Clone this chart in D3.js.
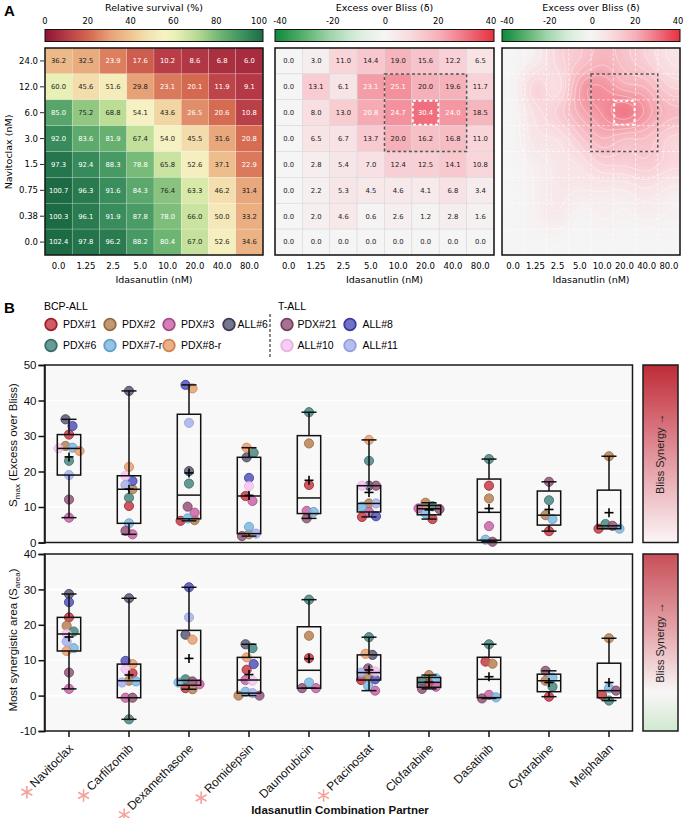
<!DOCTYPE html>
<html><head><meta charset="utf-8">
<script src="https://cdn.jsdelivr.net/npm/d3@7"></script>
<style>body{margin:0;background:#fff} svg{display:block}</style>
</head><body><svg id="c" width="685" height="818"></svg>
<script>
// ---------------- DATA ----------------
const navitoclaxDoses = ["24.0","12.0","6.0","3.0","1.5","0.75","0.38","0.0"];
const idasanutlinDoses = ["0.0","1.25","2.5","5.0","10.0","20.0","40.0","80.0"];
const survival = [
  [36.2,32.5,23.9,17.6,10.2,8.6,6.8,6.0],
  [60.0,45.6,51.6,29.8,23.1,20.1,11.9,9.1],
  [85.0,75.2,68.8,54.1,43.6,26.5,20.6,10.8],
  [92.0,83.6,81.9,67.4,54.0,45.5,31.6,20.8],
  [97.3,92.4,88.3,78.8,65.8,52.6,37.1,22.9],
  [100.7,96.3,91.6,84.3,76.4,63.3,46.2,31.4],
  [100.3,96.1,91.9,87.8,78.0,66.0,50.0,33.2],
  [102.4,97.8,96.2,88.2,80.4,67.0,52.6,34.6]
];
const bliss = [
  [0.0,3.0,11.0,14.4,19.0,15.6,12.2,6.5],
  [0.0,13.1,6.1,23.1,25.1,20.0,19.6,11.7],
  [0.0,8.0,13.0,20.8,24.7,30.4,24.0,18.5],
  [0.0,6.5,6.7,13.7,20.0,16.2,16.8,11.0],
  [0.0,2.8,5.4,7.0,12.4,12.5,14.1,10.8],
  [0.0,2.2,5.3,4.5,4.6,4.1,6.8,3.4],
  [0.0,2.0,4.6,0.6,2.6,1.2,2.8,1.6],
  [0.0,0.0,0.0,0.0,0.0,0.0,0.0,0.0]
];
const survivalTicks = [0,20,40,60,80,100];
const blissTicks = [-40,-20,0,20,40];

const samples = ["PDX#1","PDX#2","PDX#3","ALL#6","PDX#6","PDX#7-r","PDX#8-r","PDX#21","ALL#8","ALL#10","ALL#11"];
const sampleType = ["BCP-ALL","BCP-ALL","BCP-ALL","BCP-ALL","BCP-ALL","BCP-ALL","BCP-ALL","T-ALL","T-ALL","T-ALL","T-ALL"];
const sampleFill = ["#c8404a","#b98559","#c96aa8","#5e5e7a","#4f8a84","#80b9e0","#e8a272","#955a7c","#5858bd","#f3c6ef","#aab3ea"];
const sampleStroke = ["#9e1f2b","#99693f","#a84a88","#3a3a52","#356e68","#5f9fcc","#d08252","#74405e","#3a3a9c","#e8b0e4","#939fe0"];

const partners = ["Navitoclax","Carfilzomib","Dexamethasone","Romidepsin","Daunorubicin","Pracinostat","Clofarabine","Dasatinib","Cytarabine","Melphalan"];
const significant = [true,true,true,true,false,true,false,false,false,false];

// values per partner, in sample order (null = not tested)
const smaxValues = [
  [30.4,27.2,7.0,34.7,23.0,26.7,25.8,12.1,32.8,26.5,19.0],
  [10.3,15.0,2.3,42.7,12.6,5.4,21.3,3.3,17.3,18.8,16.2],
  [6.1,6.3,8.4,20.1,16.6,6.8,43.4,10.1,44.4,null,33.7],
  [13.1,2.3,11.7,24.0,25.3,4.4,26.7,1.8,18.2,15.9,2.5],
  [16.2,27.9,8.9,null,36.7,8.6,null,6.8,null,null,null],
  [7.2,11.0,8.6,16.0,23.0,10.1,28.9,16.0,7.4,16.0,11.0],
  [6.6,11.2,9.6,null,10.2,8.2,null,9.4,null,null,null],
  [16.0,12.4,4.6,null,23.5,0.8,null,0.2,null,null,null],
  [3.2,7.7,null,null,11.9,6.6,null,17.1,null,null,null],
  [3.9,24.3,null,null,5.2,3.9,null,4.7,null,null,null]
];
const sareaValues = [
  [22.1,19.7,1.9,28.7,18.1,13.4,12.6,6.5,26.4,17.4,15.3],
  [6.3,4.2,-0.6,27.5,-6.7,4.0,8.9,-0.6,9.8,7.5,3.7],
  [2.1,1.8,3.2,17.2,4.6,3.7,15.8,4.0,30.6,null,22.1],
  [7.3,0.0,4.4,14.5,13.4,1.1,10.8,0.0,8.9,4.2,0.7],
  [10.6,16.9,2.1,null,27.1,3.7,null,2.1,null,null,null],
  [4.4,5.6,1.4,11.5,16.5,2.8,11.8,7.7,4.6,6.8,6.5],
  [3.5,5.8,2.5,null,4.0,4.9,null,1.9,null,null,null],
  [9.6,9.0,0.2,null,14.5,-0.5,null,-0.8,null,null,null],
  [-0.3,4.2,null,null,2.5,5.1,null,7.0,null,null,null],
  [0.2,16.2,null,null,-1.4,2.1,null,1.4,null,null,null]
];
const smaxTicks = [0,10,20,30,40,50];
const sareaTicks = [-10,0,10,20,30,40];

// ---------------- DRAW ----------------
const svg = d3.select("#c");
const FA = "DejaVu Sans, sans-serif";
const FB = "Liberation Sans, Arial, Helvetica, sans-serif";
const defs = svg.append("defs");

svg.append("text").attr("x",4).attr("y",16).text("A")
  .attr("font-family",FB).attr("font-weight","bold").attr("font-size",15);

const survColor = d3.scaleLinear()
  .domain([0,10,20,30,40,47,55,60,70,80,90,100])
  .range(["#8c1530","#b83c47","#d4684f","#e7a278","#efc893","#f3e2b1","#f6f3c4","#e9f0b6","#b6da92","#70b674","#3f9461","#1d6b45"])
  .clamp(true);
const blissColor = d3.scaleLinear()
  .domain([-40,-30,-20,-10,0,10,20,30,40])
  .range(["#0d8a3b","#55ae6a","#9fd4a9","#d9eedc","#f5f5f5","#f9d9dd","#f6b0b9","#f07180","#e8303e"])
  .clamp(true);

const HY0 = 48, HY1 = 255;
function gradient(id, scale, lo, hi) {
  const g = defs.append("linearGradient").attr("id",id).attr("x1","0%").attr("x2","100%");
  d3.range(0,1.0001,0.05).forEach(t => g.append("stop").attr("offset",(t*100)+"%").attr("stop-color",scale(lo+t*(hi-lo))));
}
gradient("gSurv", survColor, 0, 100);
gradient("gBliss", blissColor, -40, 40);

function colorbar(x0, w, tickRange, title, ticks, gid, lo, hi) {
  const s = d3.scaleLinear().domain([lo,hi]).range(tickRange);
  svg.append("text").attr("x", x0+w/2).attr("y", 11).attr("text-anchor","middle")
    .attr("font-family",FA).attr("font-size",9.5).text(title);
  svg.append("rect").attr("x",x0).attr("y",29.5).attr("width",w).attr("height",12)
    .attr("fill","url(#"+gid+")").attr("stroke","#111").attr("stroke-width",1);
  ticks.forEach(t => {
    svg.append("text").attr("x",s(t)).attr("y",23.5).attr("text-anchor","middle")
      .attr("font-family",FA).attr("font-size",8.3).text(String(t));
  });
}

function xAxisLabels(xb) {
  idasanutlinDoses.forEach(d => {
    const cx = xb(d) + xb.bandwidth()/2;
    svg.append("text").attr("x",cx).attr("y",269).attr("text-anchor","middle")
      .attr("font-family",FA).attr("font-size",8.5).text(d);
  });
  const r = xb.range();
  svg.append("text").attr("x",(r[0]+r[1])/2).attr("y",283).attr("text-anchor","middle")
    .attr("font-family",FA).attr("font-size",9.5).text("Idasanutlin (nM)");
}

function cellHeatmap(x0, w, M, color, whiteText, stroke) {
  const xb = d3.scaleBand().domain(idasanutlinDoses).range([x0, x0+w]);
  const yb = d3.scaleBand().domain(navitoclaxDoses).range([HY0, HY1]);
  const g = svg.append("g");
  navitoclaxDoses.forEach((nd, r) => idasanutlinDoses.forEach((id, c) => {
    const v = M[r][c];
    g.append("rect").attr("x",xb(id)).attr("y",yb(nd)).attr("width",xb.bandwidth()).attr("height",yb.bandwidth())
      .attr("fill",color(v)).attr("stroke",stroke).attr("stroke-width",0.6);
    g.append("text").attr("x",xb(id)+xb.bandwidth()/2).attr("y",yb(nd)+yb.bandwidth()/2+2.4)
      .attr("text-anchor","middle").attr("font-family",FA).attr("font-size",6.8)
      .attr("fill", whiteText(v) ? "#fff" : "#222").text(v.toFixed(1));
  }));
  svg.append("rect").attr("x",x0).attr("y",HY0).attr("width",w).attr("height",HY1-HY0)
    .attr("fill","none").attr("stroke","#111").attr("stroke-width",1.5);
  xAxisLabels(xb);
  return {xb, yb};
}

function synergyBoxes(xb, yb) {
  svg.append("rect").attr("x",xb("10.0")).attr("y",yb("12.0"))
    .attr("width",xb("40.0")+xb.bandwidth()-xb("10.0")).attr("height",yb("3.0")+yb.bandwidth()-yb("12.0"))
    .attr("fill","none").attr("stroke","#555").attr("stroke-width",1.5).attr("stroke-dasharray","3,2.5");
  svg.append("rect").attr("x",xb("20.0")+1).attr("y",yb("6.0")+1)
    .attr("width",xb.bandwidth()-2).attr("height",yb.bandwidth()-2)
    .attr("fill","none").attr("stroke","#fff").attr("stroke-width",1.8).attr("stroke-dasharray","3,2.5");
}

// Left heatmap
colorbar(45, 218, [45, 259], "Relative survival (%)", survivalTicks, "gSurv", 0, 100);
const L = cellHeatmap(45, 218, survival, survColor, v => v < 27 || v > 77, "rgba(255,255,255,0.3)");
navitoclaxDoses.forEach(d => {
  const cy = L.yb(d) + L.yb.bandwidth()/2;
  svg.append("line").attr("x1",40).attr("x2",44).attr("y1",cy).attr("y2",cy).attr("stroke","#111").attr("stroke-width",0.9);
  svg.append("text").attr("x",38).attr("y",cy+3).attr("text-anchor","end")
    .attr("font-family",FA).attr("font-size",8.5).text(d);
});
svg.append("text").attr("transform","translate(12,152) rotate(-90)").attr("text-anchor","middle")
  .attr("font-family",FA).attr("font-size",9.5).text("Navitoclax (nM)");

// Middle heatmap
colorbar(275, 219, [280, 491], "Excess over Bliss (δ)", blissTicks, "gBliss", -40, 40);
const Mh = cellHeatmap(275, 219, bliss, blissColor, v => v > 20.5, "#d9d9d9");
synergyBoxes(Mh.xb, Mh.yb);

// Right smoothed map
(function(){
  const x0 = 502, w = 178, h = HY1-HY0;
  colorbar(x0, w, [507, 678], "Excess over Bliss (δ)", blissTicks, "gBliss", -40, 40);
  const xb = d3.scaleBand().domain(idasanutlinDoses).range([x0, x0+w]);
  const yb = d3.scaleBand().domain(navitoclaxDoses).range([HY0, HY1]);
  const step = 2, nx = Math.round(w/step), ny = Math.round(h/step);
  const sx = w/nx, sy = h/ny;
  const cub = (p0,p1,p2,p3,t) => p1 + 0.5*t*(p2-p0 + t*(2*p0-5*p1+4*p2-p3 + t*(3*(p1-p2)+p3-p0)));
  const g = (r,c) => bliss[Math.max(0,Math.min(7,r))][Math.max(0,Math.min(7,c))];
  function samp(fx, fy) {
    const x = fx-0.5, y = fy-0.5, ix = Math.floor(x), iy = Math.floor(y), tx = x-ix, ty = y-iy;
    const rows = [-1,0,1,2].map(m => cub(g(iy+m,ix-1),g(iy+m,ix),g(iy+m,ix+1),g(iy+m,ix+2),tx));
    return cub(rows[0],rows[1],rows[2],rows[3],ty);
  }
  let grid = new Float64Array(nx*ny);
  for (let j=0;j<ny;j++) for (let i=0;i<nx;i++) grid[j*nx+i] = samp((i+0.5)/nx*8, (j+0.5)/ny*8);
  const sig = 3, rad = 8, kern = d3.range(-rad,rad+1).map(k => Math.exp(-k*k/(2*sig*sig)));
  const ks = d3.sum(kern);
  function blur(src, horiz) {
    const out = new Float64Array(nx*ny);
    for (let j=0;j<ny;j++) for (let i=0;i<nx;i++) {
      let s=0;
      for (let k=-rad;k<=rad;k++) {
        const ii = horiz ? Math.max(0,Math.min(nx-1,i+k)) : i;
        const jj = horiz ? j : Math.max(0,Math.min(ny-1,j+k));
        s += src[jj*nx+ii]*kern[k+rad];
      }
      out[j*nx+i] = s/ks;
    }
    return out;
  }
  grid = blur(blur(grid,true),false);
  defs.append("clipPath").attr("id","clipR").append("rect").attr("x",x0).attr("y",HY0).attr("width",w).attr("height",h);
  const gg = svg.append("g").attr("clip-path","url(#clipR)");
  for (let j=0;j<ny;j++) for (let i=0;i<nx;i++) {
    gg.append("rect").attr("x",x0+i*sx).attr("y",HY0+j*sy).attr("width",sx+0.4).attr("height",sy+0.4)
      .attr("fill",blissColor(grid[j*nx+i]));
  }
  const conts = d3.contours().size([nx,ny]).thresholds(d3.range(2,31,2.5))(Array.from(grid));
  const path = d3.geoPath();
  gg.append("g").attr("transform",`translate(${x0},${HY0}) scale(${sx},${sy})`)
    .selectAll("path").data(conts).join("path").attr("d",path)
    .attr("fill","none").attr("stroke","#fff").attr("stroke-opacity",0.45).attr("stroke-width",0.8)
    .attr("vector-effect","non-scaling-stroke");
  d3.range(1,8).forEach(k => {
    gg.append("line").attr("x1",x0+k*xb.bandwidth()).attr("x2",x0+k*xb.bandwidth()).attr("y1",HY0).attr("y2",HY1)
      .attr("stroke","#fff").attr("stroke-opacity",0.75).attr("stroke-width",0.8).attr("stroke-dasharray","3,2");
    gg.append("line").attr("y1",HY0+k*yb.bandwidth()).attr("y2",HY0+k*yb.bandwidth()).attr("x1",x0).attr("x2",x0+w)
      .attr("stroke","#fff").attr("stroke-opacity",0.75).attr("stroke-width",0.8).attr("stroke-dasharray","3,2");
  });
  svg.append("rect").attr("x",x0).attr("y",HY0).attr("width",w).attr("height",h)
    .attr("fill","none").attr("stroke","#111").attr("stroke-width",1.5);
  synergyBoxes(xb, yb);
  xAxisLabels(xb);
})();

// ---------------- PANEL B ----------------
svg.append("text").attr("x",4).attr("y",313).text("B")
  .attr("font-family",FB).attr("font-weight","bold").attr("font-size",15);
svg.append("text").attr("x",44).attr("y",309.5).attr("font-family",FB).attr("font-size",10.5).text("BCP-ALL");
svg.append("text").attr("x",278).attr("y",309.5).attr("font-family",FB).attr("font-size",10.5).text("T-ALL");
svg.append("line").attr("x1",270).attr("x2",270).attr("y1",314).attr("y2",357)
  .attr("stroke","#111").attr("stroke-width",1).attr("stroke-dasharray","3,2");
(function(){
  const bcpCols = [51,110,169,229], tCols = [287,350], rowsY = [324.5,345.5];
  let b = 0, t = 0;
  samples.forEach((s, i) => {
    let cx, cy, gap = 12;
    if (sampleType[i] === "BCP-ALL") {
      const order = [0,1,2,3,0,1,2][b]; cy = rowsY[b < 4 ? 0 : 1]; cx = bcpCols[order]; if (b===3) gap = 8.5; b++;
    } else {
      cx = tCols[t%2]; cy = rowsY[t<2?0:1]; gap = t%2===0 ? 10.5 : 12.5; t++;
    }
    svg.append("circle").attr("cx",cx).attr("cy",cy).attr("r",5.8)
      .attr("fill",sampleFill[i]).attr("fill-opacity",0.85).attr("stroke",sampleStroke[i]).attr("stroke-width",1.8);
    svg.append("text").attr("x",cx+gap).attr("y",cy+3.7).attr("font-family",FB).attr("font-size",10.5).text(s);
  });
})();

const xCat = d3.scalePoint().domain(partners).range([69, 609]);
const PX0 = 44.5, PX1 = 632.5;

function quant(sorted, p) {
  const n = sorted.length; let pos = (n+1)*p;
  pos = Math.max(1, Math.min(n, pos));
  const lo = Math.floor(pos), hi = Math.ceil(pos);
  return sorted[lo-1] + (pos-lo)*(sorted[hi-1]-sorted[lo-1]);
}
function swarm(pts, d, s) {
  const order = pts.slice().sort((a,b)=>a.y-b.y);
  const placed = [];
  order.forEach(p => {
    for (let k=0;k<30;k++) {
      const off = k===0 ? 0 : (k%2===1 ? 1 : -1)*Math.ceil(k/2)*s;
      if (placed.every(q => Math.hypot(q.dx-off, q.y-p.y) >= d)) { p.dx = off; break; }
    }
    placed.push(p);
  });
  let groups = [], cur = [order[0]];
  for (let j=1;j<order.length;j++) { if (order[j].y-order[j-1].y < d) cur.push(order[j]); else { groups.push(cur); cur=[order[j]]; } }
  groups.push(cur);
  groups.forEach(gp => { const m = d3.mean(gp, p=>p.dx); gp.forEach(p => p.dx -= m); });
}

function boxPanel(y0, y1, domain, ticks, values, yTitleParts, titleY, grad, xTicks) {
  const y = d3.scaleLinear().domain(domain).range([y1, y0]);
  svg.append("rect").attr("x",PX0).attr("y",y0).attr("width",PX1-PX0).attr("height",y1-y0).attr("fill","#f8f8f8");
  ticks.forEach(t => { if (t>domain[0] && t<domain[1]) svg.append("line").attr("x1",PX0).attr("x2",PX1).attr("y1",y(t)).attr("y2",y(t)).attr("stroke","#fff").attr("stroke-width",1.6); });
  const ax = svg.append("g").attr("transform",`translate(${PX0},0)`)
    .call(d3.axisLeft(y).tickValues(ticks).tickSize(6).tickPadding(2).tickFormat(d => String(d)));
  ax.selectAll("text").attr("font-family",FB).attr("font-size",11.5).attr("fill","#111");
  ax.selectAll("line").attr("stroke","#111").attr("stroke-width",1.5);
  ax.select(".domain").attr("stroke","#111").attr("stroke-width",1.5);

  partners.forEach((p, ci) => {
    const cx = xCat(p);
    const pts = [];
    values[ci].forEach((v, si) => { if (v !== null) pts.push({v, si, y: y(v), dx: 0}); });
    swarm(pts, 7, 7);
    pts.forEach(pt => {
      svg.append("circle").attr("cx",cx+pt.dx).attr("cy",pt.y).attr("r",4.6)
        .attr("fill",sampleFill[pt.si]).attr("fill-opacity",0.88)
        .attr("stroke",sampleStroke[pt.si]).attr("stroke-width",0.8);
    });
    const sorted = pts.map(d=>d.v).sort((a,b)=>a-b);
    const q1 = quant(sorted,0.25), q2 = quant(sorted,0.5), q3 = quant(sorted,0.75);
    const mn = sorted[0], mx = sorted[sorted.length-1], mean = d3.mean(sorted);
    const bw = 11.7, cw = 7.5;
    const ln = (x1,y1_,x2,y2_) => svg.append("line").attr("x1",x1).attr("y1",y1_).attr("x2",x2).attr("y2",y2_).attr("stroke","#111").attr("stroke-width",1.5);
    ln(cx, y(mx), cx, y(q3)); ln(cx, y(q1), cx, y(mn));
    ln(cx-cw, y(mx), cx+cw, y(mx)); ln(cx-cw, y(mn), cx+cw, y(mn));
    svg.append("rect").attr("x",cx-bw).attr("y",y(q3)).attr("width",2*bw).attr("height",Math.max(0.5,y(q1)-y(q3)))
      .attr("fill","none").attr("stroke","#111").attr("stroke-width",1.5);
    ln(cx-bw, y(q2), cx+bw, y(q2));
    svg.append("line").attr("x1",cx-4.5).attr("x2",cx+4.5).attr("y1",y(mean)).attr("y2",y(mean)).attr("stroke","#000").attr("stroke-width",1.6);
    svg.append("line").attr("x1",cx).attr("x2",cx).attr("y1",y(mean)-4.5).attr("y2",y(mean)+4.5).attr("stroke","#000").attr("stroke-width",1.6);
    if (xTicks) svg.append("line").attr("x1",cx).attr("x2",cx).attr("y1",y1).attr("y2",y1+6).attr("stroke","#111").attr("stroke-width",1.5);
  });
  svg.append("rect").attr("x",PX0).attr("y",y0).attr("width",PX1-PX0).attr("height",y1-y0)
    .attr("fill","none").attr("stroke","#1a1a1a").attr("stroke-width",1.5);

  const tt = svg.append("text").attr("transform",`translate(17,${titleY}) rotate(-90)`).attr("text-anchor","middle")
    .attr("font-family",FB).attr("font-size",11.5).attr("fill","#111");
  tt.append("tspan").text(yTitleParts[0]);
  tt.append("tspan").attr("font-size",8).attr("dy",3).text(yTitleParts[1]);
  tt.append("tspan").attr("dy",-3).text(yTitleParts[2]);

  const gid = "gb"+Math.round(y0);
  const lg = defs.append("linearGradient").attr("id",gid).attr("x1","0").attr("x2","0").attr("y1","0").attr("y2","1");
  grad.forEach(([o,c]) => lg.append("stop").attr("offset",o).attr("stop-color",c));
  svg.append("rect").attr("x",643).attr("y",y0).attr("width",35).attr("height",y1-y0)
    .attr("fill",`url(#${gid})`).attr("stroke","#1a1a1a").attr("stroke-width",1.5);
  svg.append("text").attr("transform",`translate(664,${(y0+y1)/2}) rotate(-90)`).attr("text-anchor","middle")
    .attr("font-family",FB).attr("font-size",11).attr("fill","#222").text("Bliss Synergy →");
}

boxPanel(365, 542.5, [0,50], smaxTicks, smaxValues, ["S","max"," (Excess over Bliss)"], 445,
  [[0,"#be2b37"],[0.5,"#e2919a"],[1,"#fbf5f6"]], false);
boxPanel(554, 731, [-10,40], sareaTicks, sareaValues, ["Most synergistic area (S","area",")"], 640,
  [[0,"#c84f59"],[0.45,"#e6a9ae"],[0.78,"#f9f6f6"],[1,"#cfe9cf"]], true);

// x labels
partners.forEach((p, i) => {
  const cx = xCat(p), ax = cx + 5, ay = 749;
  const t = svg.append("text").attr("transform",`translate(${ax},${ay}) rotate(-45)`).attr("text-anchor","end")
    .attr("font-family",FB).attr("font-size",12).attr("fill","#111").text(p);
  if (significant[i]) {
    const Ln = t.node().getComputedTextLength();
    const sx = ax - Ln*0.7071 - 8, sy = ay + Ln*0.7071 + 4;
    svg.append("path").attr("transform",`translate(${sx},${sy})`)
      .attr("d", d3.symbol(d3.symbolAsterisk, 110)())
      .attr("fill","none").attr("stroke","#f4a29b").attr("stroke-width",1.6);
  }
});
svg.append("text").attr("x",340).attr("y",814).attr("text-anchor","middle")
  .attr("font-family",FB).attr("font-weight","bold").attr("font-size",11.5).attr("fill","#111")
  .text("Idasanutlin Combination Partner");
</script></body></html>
